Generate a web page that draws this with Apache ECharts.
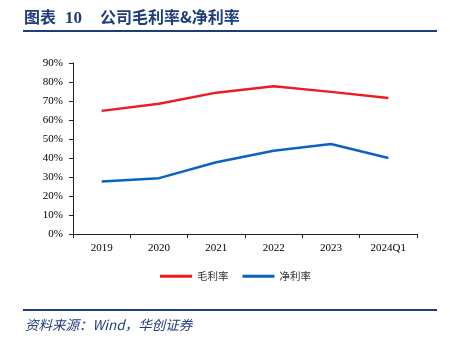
<!DOCTYPE html>
<html>
<head>
<meta charset="utf-8">
<script src="https://cdn.jsdelivr.net/npm/echarts@6/dist/echarts.min.js"></script>
<style>
  html, body { margin: 0; padding: 0; background: #fff; }
  #chart { width: 450px; height: 338px; }
</style>
</head>
<body>
<div id="chart"></div>
<script>
// Annual margins, 2019 through 2024Q1 (percent)
const categories = ['2019', '2020', '2021', '2022', '2023', '2024Q1'];
const grossMargin = [64.8, 68.5, 74.4, 77.8, 74.8, 71.6];
const netMargin = [27.6, 29.4, 37.8, 43.8, 47.4, 40.0];
const seriesNames = ['毛利率', '净利率'];
const titleLabel = '图表';
const titleNumber = '10';
const titleText = '公司毛利率&净利率';
const sourceText = '资料来源：Wind，华创证券';

const navy = '#1f3d7a';
const chart = echarts.init(document.getElementById('chart'));

chart.setOption({
  animation: false,
  backgroundColor: '#fff',
  graphic: [
    { type: 'text', left: 24, top: 9,
      style: { text: titleLabel, font: 'bold 16px "Noto Sans CJK SC"', fill: navy } },
    { type: 'text', left: 65, top: 10,
      style: { text: titleNumber, font: 'bold 17px "Liberation Serif"', fill: navy } },
    { type: 'text', left: 100, top: 9,
      style: { text: titleText, font: 'bold 16px "Noto Sans CJK SC"', fill: navy } },
    { type: 'rect', shape: { x: 23, y: 30, width: 414, height: 2 },
      style: { fill: navy } },
    { type: 'rect', shape: { x: 23, y: 309, width: 414, height: 2 },
      style: { fill: navy } },
    { type: 'text', left: 25, top: 318,
      style: { text: sourceText, font: 'italic 13.5px "Noto Sans CJK SC"', fill: navy } }
  ],
  legend: {
    top: 266,
    left: 155,
    itemWidth: 32,
    itemHeight: 3,
    itemGap: 14,
    icon: 'rect',
    textStyle: { fontFamily: '"Noto Sans CJK SC"', fontSize: 10.5, color: '#333' },
    data: seriesNames
  },
  grid: { left: 73, right: 33, top: 63, bottom: 104, containLabel: false },
  xAxis: {
    type: 'category',
    data: categories,
    boundaryGap: true,
    axisLine: { lineStyle: { color: '#222', width: 1 } },
    axisTick: { show: true, length: 4, alignWithLabel: false, lineStyle: { color: '#222' } },
    axisLabel: { color: '#000', fontFamily: '"Liberation Serif"', fontSize: 11, margin: 9 }
  },
  yAxis: {
    type: 'value',
    min: 0,
    max: 90,
    interval: 10,
    splitLine: { show: false },
    axisLine: { show: true, lineStyle: { color: '#222', width: 1 } },
    axisTick: { show: true, length: 4, lineStyle: { color: '#222' } },
    axisLabel: { color: '#000', fontFamily: '"Liberation Serif"', fontSize: 11, margin: 10,
      formatter: v => v + '%' }
  },
  series: [
    { name: seriesNames[0], type: 'line', data: grossMargin, symbol: 'none',
      lineStyle: { color: '#ec1c24', width: 2.5 }, itemStyle: { color: '#ec1c24' } },
    { name: seriesNames[1], type: 'line', data: netMargin, symbol: 'none',
      lineStyle: { color: '#0b63be', width: 2.5 }, itemStyle: { color: '#0b63be' } }
  ]
});
</script>
</body>
</html>
